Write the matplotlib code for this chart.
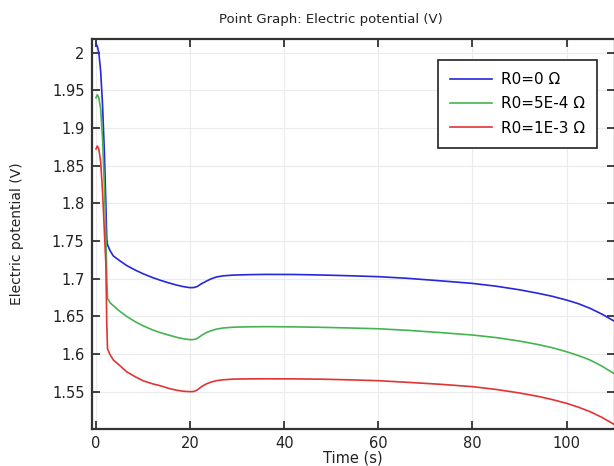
import matplotlib
matplotlib.use("Agg")
import matplotlib.pyplot as plt

# ---- data ----
time_s = [0, 0.3, 0.6, 1.0, 1.4, 1.8, 2.1, 2.3, 2.45, 3.0, 3.7, 5, 6.5, 8.3, 10, 12,
          13.6, 15.4, 17.1, 18.5, 20, 20.8, 21.5, 22.5, 23.5, 24.5, 25.6, 27, 29.2,
          32.7, 36, 42, 48, 54, 60, 66, 73, 80, 85, 90, 94, 97, 100, 102.5, 105,
          107.5, 110]

v_r0_0 = [2.012, 2.008, 2.000, 1.975, 1.930, 1.865, 1.800, 1.752, 1.745, 1.737,
          1.730, 1.724, 1.7175, 1.7115, 1.7065, 1.7015, 1.698, 1.6945, 1.6915, 1.6895,
          1.6880, 1.6882, 1.6895, 1.6935, 1.6968, 1.6998, 1.7022, 1.7037, 1.7047,
          1.7053, 1.7056, 1.7055, 1.7048, 1.7038, 1.7026, 1.7005, 1.6972, 1.6937,
          1.6900, 1.6852, 1.6805, 1.6765, 1.6716, 1.6668, 1.6606, 1.6530, 1.6441]

v_r0_5e4 = [1.940, 1.944, 1.940, 1.925, 1.885, 1.820, 1.760, 1.700, 1.674, 1.668,
            1.664, 1.657, 1.650, 1.643, 1.6375, 1.632, 1.6285, 1.6252, 1.6222, 1.6203,
            1.6190, 1.6192, 1.6205, 1.6250, 1.6285, 1.6310, 1.6330, 1.6345, 1.6356,
            1.6361, 1.6363, 1.6360, 1.6354, 1.6345, 1.6335, 1.6315, 1.6285, 1.6252,
            1.6218, 1.6172, 1.6125, 1.6083, 1.6030, 1.5980, 1.5920, 1.5840, 1.5744]

v_r0_1e3 = [1.872, 1.876, 1.872, 1.855, 1.815, 1.760, 1.720, 1.640, 1.607, 1.599,
            1.592, 1.585, 1.5765, 1.5700, 1.5645, 1.5605, 1.5580, 1.5545, 1.5520, 1.5506,
            1.5500, 1.5503, 1.5522, 1.5570, 1.5605, 1.5628, 1.5646, 1.5658, 1.5667,
            1.5670, 1.5671, 1.5670, 1.5666, 1.5657, 1.5646, 1.5625, 1.5599, 1.5567,
            1.5530, 1.5483, 1.5437, 1.5395, 1.5346, 1.5295, 1.5235, 1.5160, 1.5070]

series_labels = ["R0=0 \u03a9", "R0=5E-4 \u03a9", "R0=1E-3 \u03a9"]

x_ticks = [0, 20, 40, 60, 80, 100]
x_ticklabels = ["0", "20", "40", "60", "80", "100"]
y_ticks = [1.55, 1.6, 1.65, 1.7, 1.75, 1.8, 1.85, 1.9, 1.95, 2.0]
y_ticklabels = ["1.55", "1.6", "1.65", "1.7", "1.75", "1.8", "1.85", "1.9", "1.95", "2"]

# ---- figure ----
W, H = 614, 466
fig = plt.figure(figsize=(W / 100, H / 100), dpi=100)
fig.patch.set_facecolor("white")

left_px, right_px, top_px, bottom_px = 91.5, 615, 38.5, 429
ax = fig.add_axes([left_px / W, (H - bottom_px) / H,
                   (right_px - left_px) / W, (bottom_px - top_px) / H])

colors = ["#2626dc", "#44b450", "#e03434"]
for vals, lab, c in zip([v_r0_0, v_r0_5e4, v_r0_1e3], series_labels, colors):
    ax.plot(time_s, vals, color=c, lw=1.2, label=lab)

ax.set_xlim(-0.95, 110.3)
ax.set_ylim(1.5005, 2.0186)
ax.set_xticks(x_ticks)
ax.set_xticklabels(x_ticklabels)
ax.set_yticks(y_ticks)
ax.set_yticklabels(y_ticklabels)

ax.tick_params(direction="in", length=6, width=1.3, color="#333333",
               top=True, right=True, labelsize=10.5, labelcolor="#222222", pad=5)
for s in ax.spines.values():
    s.set_color("#333333")
    s.set_linewidth(1.6)

ax.grid(True, color="#ebebeb", lw=0.8)
ax.set_axisbelow(True)

ax.set_xlabel("Time (s)", fontsize=10.5, color="#222222")
ax.xaxis.set_label_coords(0.5, -0.055)
ax.set_ylabel("Electric potential (V)", fontsize=10, color="#222222")
ax.yaxis.set_label_coords(-0.128, 0.5)

fig.text(331 / W, 1 - 19 / H, "Point Graph: Electric potential (V)",
         ha="center", va="center", fontsize=9.5, color="#222222")

leg = ax.legend(loc="upper right", bbox_to_anchor=(597 / W, 1 - 60 / H),
                bbox_transform=fig.transFigure, fontsize=11, fancybox=False,
                framealpha=1, edgecolor="#222222", handlelength=2.75,
                borderpad=0.8, labelspacing=0.6, handletextpad=0.55,
                borderaxespad=0)
leg.get_frame().set_linewidth(1.2)

fig.savefig("out.png", dpi=100)
